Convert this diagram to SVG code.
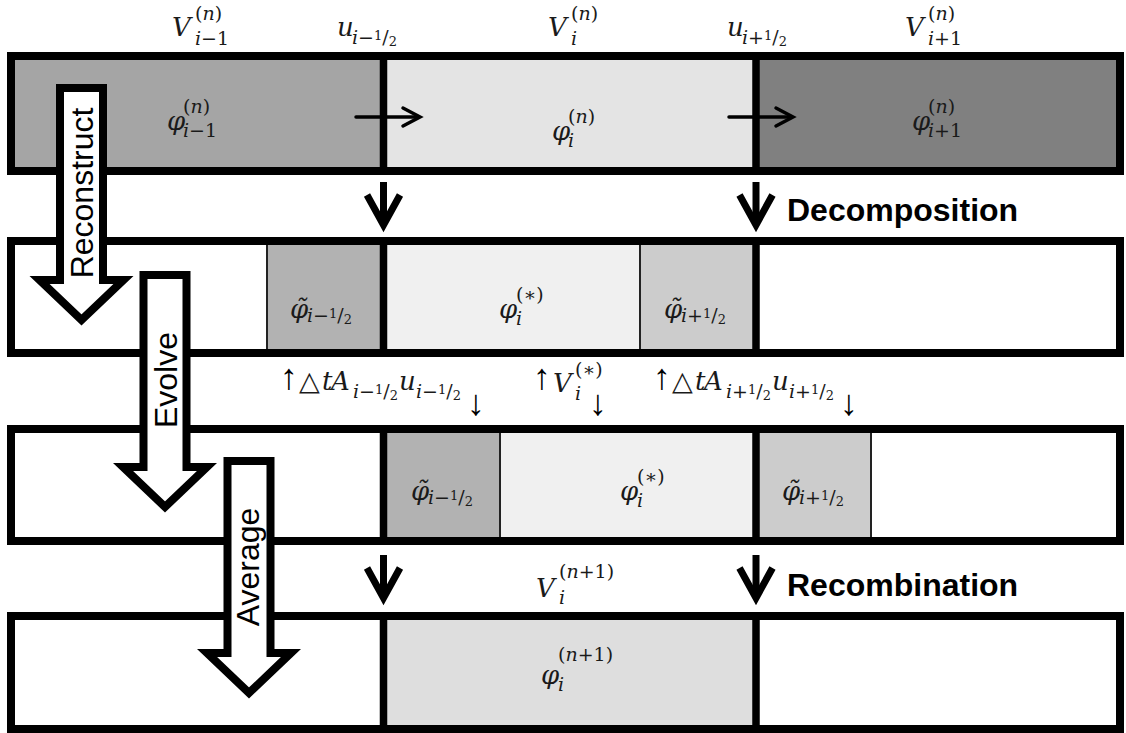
<svg xmlns="http://www.w3.org/2000/svg" width="1126" height="733" viewBox="0 0 1126 733">
<style>
.frame{fill:none;stroke:#000;stroke-width:8}
.div{stroke:#000;stroke-width:7.5}
.thin{stroke:#222;stroke-width:2}
.m{font-family:"DejaVu Serif","Liberation Serif",serif;font-style:italic;font-size:26px;fill:#1a1a1a}
.s{font-family:"DejaVu Serif","Liberation Serif",serif;font-style:normal;font-size:19px;fill:#1a1a1a}
.i{font-style:italic}
.f{font-size:13px}
.tri{font-family:"DejaVu Sans",sans-serif;font-style:normal;font-size:27px}
.ar{font-family:"Liberation Sans",Arial,sans-serif;font-size:36px;fill:#000;text-anchor:middle}
.lbl{font-family:"Liberation Sans",Arial,sans-serif;font-size:32px;font-weight:bold;fill:#000}
.big{fill:#fff;stroke:#000;stroke-width:8;stroke-linejoin:miter}
.bt{font-family:"Liberation Sans",Arial,sans-serif;font-size:32px;fill:#000}
.dn{fill:none;stroke:#000;stroke-width:7;stroke-linejoin:miter}
.rt{fill:none;stroke:#000;stroke-width:3.5;stroke-linecap:round;stroke-linejoin:miter}
</style>

<g id="top-labels">
<text class="m" x="172" y="36">V</text>
<text class="s" x="195" y="20">(<tspan class="i">n</tspan>)</text>
<text class="s" x="195" y="45"><tspan class="i">i</tspan>−1</text>

<text class="m" x="337" y="36">u</text>
<text class="s" x="352" y="44"><tspan class="i">i</tspan>−<tspan class="f" dy="-4">1</tspan><tspan dy="4">/</tspan><tspan class="f" dy="2">2</tspan></text>

<text class="m" x="548" y="36">V</text>
<text class="s" x="571" y="20">(<tspan class="i">n</tspan>)</text>
<text class="s" x="571" y="45"><tspan class="i">i</tspan></text>

<text class="m" x="727" y="36">u</text>
<text class="s" x="742" y="44"><tspan class="i">i</tspan>+<tspan class="f" dy="-4">1</tspan><tspan dy="4">/</tspan><tspan class="f" dy="2">2</tspan></text>

<text class="m" x="905" y="36">V</text>
<text class="s" x="928" y="20">(<tspan class="i">n</tspan>)</text>
<text class="s" x="928" y="45"><tspan class="i">i</tspan>+1</text>
</g>

<g id="row1">
<rect x="11" y="56" width="372" height="115" fill="#a5a5a5"/>
<rect x="383" y="56" width="373" height="115" fill="#e4e4e4"/>
<rect x="756" y="56" width="364" height="115" fill="#808080"/>
<rect class="frame" x="11" y="56" width="1109" height="115"/>
<line class="div" x1="383.5" y1="56" x2="383.5" y2="171"/>
<line class="div" x1="756" y1="56" x2="756" y2="171"/>
<text class="m" x="167" y="130">φ</text>
<text class="s" x="183" y="113">(<tspan class="i">n</tspan>)</text>
<text class="s" x="183" y="137"><tspan class="i">i</tspan>−1</text>
<text class="m" x="552" y="140">φ</text>
<text class="s" x="568" y="123">(<tspan class="i">n</tspan>)</text>
<text class="s" x="568" y="147"><tspan class="i">i</tspan></text>
<text class="m" x="912" y="130">φ</text>
<text class="s" x="928" y="113">(<tspan class="i">n</tspan>)</text>
<text class="s" x="928" y="137"><tspan class="i">i</tspan>+1</text>
</g>

<g id="row2">
<rect x="267" y="241" width="116" height="112" fill="#b2b2b2"/>
<rect x="383" y="241" width="257" height="112" fill="#f0f0f0"/>
<rect x="640" y="241" width="116" height="112" fill="#cccccc"/>
<line class="thin" x1="267" y1="245" x2="267" y2="349"/>
<line class="thin" x1="640" y1="245" x2="640" y2="349"/>
<rect class="frame" x="11" y="241" width="1109" height="112"/>
<line class="div" x1="383.5" y1="241" x2="383.5" y2="353"/>
<line class="div" x1="756" y1="241" x2="756" y2="353"/>
<text class="m" x="290" y="318">φ̃</text>
<text class="s" x="307" y="322"><tspan class="i">i</tspan>−<tspan class="f" dy="-4">1</tspan><tspan dy="4">/</tspan><tspan class="f" dy="2">2</tspan></text>
<text class="m" x="499" y="318">φ</text>
<text class="s" x="516" y="301">(∗)</text>
<text class="s" x="516" y="325"><tspan class="i">i</tspan></text>
<text class="m" x="664" y="318">φ̃</text>
<text class="s" x="681" y="322"><tspan class="i">i</tspan>+<tspan class="f" dy="-4">1</tspan><tspan dy="4">/</tspan><tspan class="f" dy="2">2</tspan></text>
</g>

<g id="flux-labels">
<text class="ar" x="289" y="389">↑</text>
<text class="m" y="390"><tspan class="tri" x="299">△</tspan><tspan x="322">t</tspan><tspan x="331">A</tspan></text>
<text class="s" x="353" y="398"><tspan class="i">i</tspan>−<tspan class="f" dy="-4">1</tspan><tspan dy="4">/</tspan><tspan class="f" dy="2">2</tspan></text>
<text class="m" x="399" y="390">u</text>
<text class="s" x="416" y="398"><tspan class="i">i</tspan>−<tspan class="f" dy="-4">1</tspan><tspan dy="4">/</tspan><tspan class="f" dy="2">2</tspan></text>
<text class="ar" x="476" y="415">↓</text>

<text class="ar" x="542" y="389">↑</text>
<text class="m" x="553" y="392">V</text>
<text class="s" x="575" y="376">(∗)</text>
<text class="s" x="575" y="400"><tspan class="i">i</tspan></text>
<text class="ar" x="598" y="415">↓</text>

<text class="ar" x="662" y="389">↑</text>
<text class="m" y="390"><tspan class="tri" x="672">△</tspan><tspan x="695">t</tspan><tspan x="704">A</tspan></text>
<text class="s" x="726" y="398"><tspan class="i">i</tspan>+<tspan class="f" dy="-4">1</tspan><tspan dy="4">/</tspan><tspan class="f" dy="2">2</tspan></text>
<text class="m" x="772" y="390">u</text>
<text class="s" x="789" y="398"><tspan class="i">i</tspan>+<tspan class="f" dy="-4">1</tspan><tspan dy="4">/</tspan><tspan class="f" dy="2">2</tspan></text>
<text class="ar" x="849" y="415">↓</text>
</g>

<g id="row3">
<rect x="383" y="429" width="117" height="112" fill="#b2b2b2"/>
<rect x="500" y="429" width="256" height="112" fill="#f0f0f0"/>
<rect x="756" y="429" width="115" height="112" fill="#cccccc"/>
<line class="thin" x1="500" y1="433" x2="500" y2="537"/>
<line class="thin" x1="871" y1="433" x2="871" y2="537"/>
<rect class="frame" x="11" y="429" width="1109" height="112"/>
<line class="div" x1="383.5" y1="429" x2="383.5" y2="541"/>
<line class="div" x1="756" y1="429" x2="756" y2="541"/>
<text class="m" x="411" y="500">φ̃</text>
<text class="s" x="428" y="504"><tspan class="i">i</tspan>−<tspan class="f" dy="-4">1</tspan><tspan dy="4">/</tspan><tspan class="f" dy="2">2</tspan></text>
<text class="m" x="620" y="500">φ</text>
<text class="s" x="637" y="483">(∗)</text>
<text class="s" x="637" y="507"><tspan class="i">i</tspan></text>
<text class="m" x="782" y="500">φ̃</text>
<text class="s" x="799" y="504"><tspan class="i">i</tspan>+<tspan class="f" dy="-4">1</tspan><tspan dy="4">/</tspan><tspan class="f" dy="2">2</tspan></text>
</g>

<g id="row4-label">
<text class="m" x="536" y="597">V</text>
<text class="s" x="559" y="578">(<tspan class="i">n</tspan>+1)</text>
<text class="s" x="559" y="604"><tspan class="i">i</tspan></text>
</g>

<g id="row4">
<rect x="383" y="616" width="373" height="113" fill="#dedede"/>
<rect class="frame" x="11" y="616" width="1109" height="113"/>
<line class="div" x1="383.5" y1="616" x2="383.5" y2="729"/>
<line class="div" x1="756" y1="616" x2="756" y2="729"/>
<text class="m" x="541" y="684">φ</text>
<text class="s" x="558" y="661">(<tspan class="i">n</tspan>+1)</text>
<text class="s" x="558" y="691"><tspan class="i">i</tspan></text>
</g>

<g id="connectors">
<line class="rt" x1="356" y1="117" x2="418" y2="117"/>
<polyline class="rt" points="403,108 420,117 403,126"/>
<line class="rt" x1="729" y1="117" x2="791" y2="117"/>
<polyline class="rt" points="776,108 793,117 776,126"/>

<line class="dn" x1="383.5" y1="182" x2="383.5" y2="222"/>
<polyline class="dn" points="367,195 383.5,225 400,195"/>
<line class="dn" x1="756" y1="182" x2="756" y2="222"/>
<polyline class="dn" points="739.5,195 756,225 772.5,195"/>
<line class="dn" x1="383.5" y1="555" x2="383.5" y2="595"/>
<polyline class="dn" points="367,568 383.5,598 400,568"/>
<line class="dn" x1="756" y1="555" x2="756" y2="595"/>
<polyline class="dn" points="739.5,568 756,598 772.5,568"/>
</g>

<g id="step-labels">
<text class="lbl" x="787" y="221">Decomposition</text>
<text class="lbl" x="787" y="596">Recombination</text>
</g>

<g id="reconstruct">
<path class="big" d="M60,88 H103 V280 H123.5 L81.5,320 L39.5,280 H60 Z"/>
<text class="bt" transform="translate(93,193) rotate(-90)" text-anchor="middle">Reconstruct</text>
</g>
<g id="evolve">
<path class="big" d="M143.5,275 H186.5 V467 H207 L165,507 L123,467 H143.5 Z"/>
<text class="bt" transform="translate(177,380) rotate(-90)" text-anchor="middle">Evolve</text>
</g>
<g id="average">
<path class="big" d="M227.5,461 H270.5 V653 H291 L249,693 L207,653 H227.5 Z"/>
<text class="bt" transform="translate(259,567) rotate(-90)" text-anchor="middle">Average</text>
</g>
</svg>
